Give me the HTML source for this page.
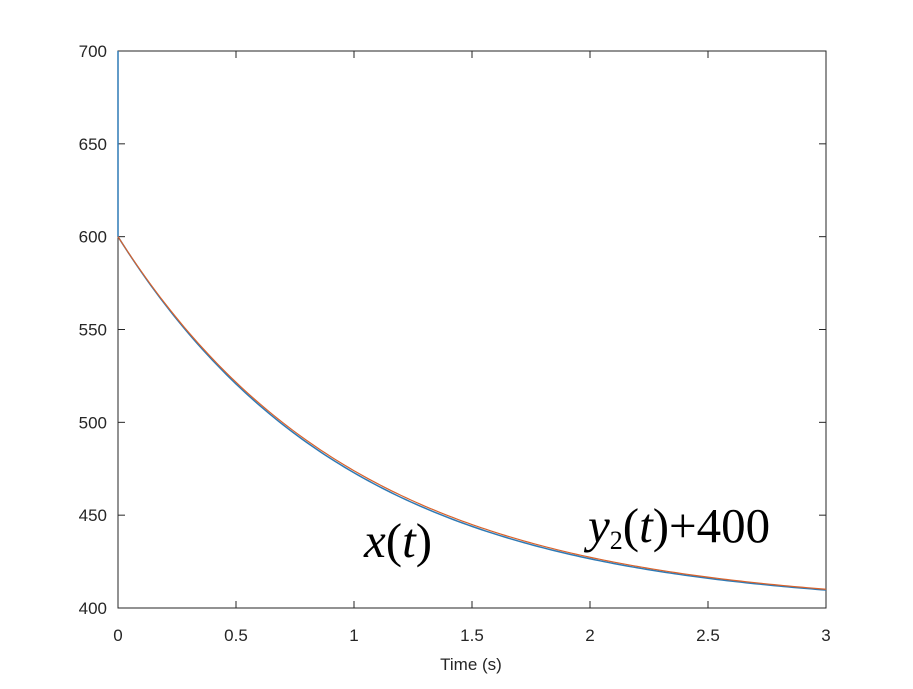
<!DOCTYPE html>
<html><head><meta charset="utf-8"><style>
body{margin:0;background:#fff}
svg text{font-family:"Liberation Sans",sans-serif;font-size:17px;fill:#262626}
</style></head><body>
<svg width="913" height="684" viewBox="0 0 913 684">
<rect x="0" y="0" width="913" height="684" fill="#fff"/>
<rect x="118" y="51" width="708" height="557" fill="none" stroke="#262626" stroke-width="1"/>
<g id="ticks" stroke="#262626" stroke-width="1"></g>
<g id="labels"></g>
<path id="blue" fill="none" stroke="#2f7ab5" stroke-width="1.5"/>
<path id="orange" fill="none" stroke="#d9622b" stroke-width="1.2"/>
<text x="471" y="670" text-anchor="middle">Time (s)</text>
<text x="364" y="557" style="font-family:'Liberation Serif',serif;font-size:49px;fill:#000"><tspan font-style="italic">x</tspan>(<tspan font-style="italic">t</tspan>)</text>
<text x="588" y="542" style="font-family:'Liberation Serif',serif;font-size:49px;fill:#000"><tspan font-style="italic">y</tspan><tspan font-size="26" dy="7">2</tspan><tspan dy="-7">(</tspan><tspan font-style="italic">t</tspan>)+400</text>
</svg>
<script>
var X=function(t){return 118+t*236;},Y=function(v){return 608-(v-400)*557/300;};
var tk=document.getElementById('ticks'),lb=document.getElementById('labels'),s='';
var xs=['0','0.5','1','1.5','2','2.5','3'];
for(var i=0;i<7;i++){var x=X(i*0.5);s+='<line x1="'+x+'" y1="608" x2="'+x+'" y2="601"/><line x1="'+x+'" y1="51" x2="'+x+'" y2="58"/>';
lb.innerHTML+='<text x="'+x+'" y="641" text-anchor="middle">'+xs[i]+'</text>';}
for(var v=400;v<=700;v+=50){var y=Y(v);s+='<line x1="118" y1="'+y+'" x2="125" y2="'+y+'"/><line x1="826" y1="'+y+'" x2="819" y2="'+y+'"/>';
lb.innerHTML+='<text x="107" y="'+(y+6)+'" text-anchor="end">'+v+'</text>';}
tk.innerHTML=s;
var b='M'+X(0)+','+Y(700)+' L'+X(0)+','+Y(600),o='M'+X(0)+','+Y(600);
for(var t=0;t<=3.0001;t+=0.02){b+=' L'+X(t).toFixed(2)+','+Y(400+200*Math.exp(-t*1.01)).toFixed(2);o+=' L'+X(t).toFixed(2)+','+Y(400+200*Math.exp(-t*0.995)).toFixed(2);}
document.getElementById('blue').setAttribute('d',b);document.getElementById('orange').setAttribute('d',o);
</script>
</body></html>
